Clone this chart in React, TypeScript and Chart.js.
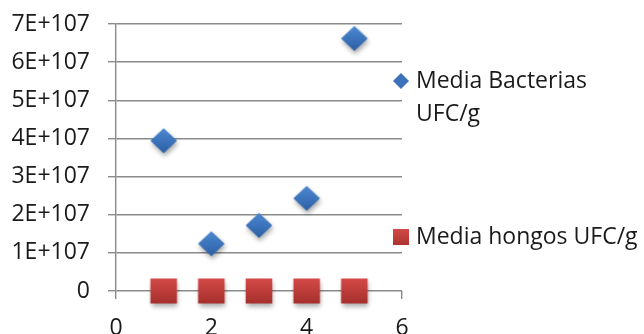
import React, { useEffect, useRef } from 'react';
import { Chart, registerables } from 'chart.js';

Chart.register(...registerables);

// Sample numbers (x) and mean counts per series
const sampleX = [1, 2, 3, 4, 5];
const bacteriasValues = [3.94e7, 1.24e7, 1.72e7, 2.43e7, 6.62e7];
const hongosValues = [0, 0, 0, 0, 0];
const seriesNames = ['Media Bacterias UFC/g', 'Media hongos UFC/g'];
const yTickLabels = ['0', '1E+107', '2E+107', '3E+107', '4E+107', '5E+107', '6E+107', '7E+107'];
const xTickLabels = ['0', '2', '4', '6'];

const FONT_FAMILY = "'Open Sans', sans-serif";
const FONT_SIZE = 23;
const TEXT_COLOR = '#1a1a1a';
const GRID_COLOR = '#8a8a8a';

type MarkerKind = 'diamond' | 'square';

function makeMarker(kind: MarkerKind): HTMLCanvasElement {
  const size = 48;
  const c = document.createElement('canvas');
  c.width = size;
  c.height = size;
  const ctx = c.getContext('2d')!;
  const cx = size / 2;
  const cy = size / 2;
  const hw = 13.3;
  const hh = 12.5;
  const g = ctx.createLinearGradient(0, cy - hh, 0, cy + hh);
  if (kind === 'square') {
    g.addColorStop(0, '#d44a47');
    g.addColorStop(1, '#a52f2d');
  } else {
    g.addColorStop(0, '#4d89d2');
    g.addColorStop(1, '#2c5fa4');
  }
  ctx.shadowColor = 'rgba(0,0,0,0.35)';
  ctx.shadowBlur = 5;
  ctx.shadowOffsetX = 1;
  ctx.shadowOffsetY = 3;
  ctx.fillStyle = g;
  ctx.beginPath();
  if (kind === 'square') {
    ctx.rect(cx - hw, cy - hh, hw * 2, hh * 2);
  } else {
    ctx.moveTo(cx, cy - hh);
    ctx.lineTo(cx + hw, cy);
    ctx.lineTo(cx, cy + hh);
    ctx.lineTo(cx - hw, cy);
    ctx.closePath();
  }
  ctx.fill();
  return c;
}

function wrapText(ctx: CanvasRenderingContext2D, text: string, maxWidth: number): string[] {
  const words = text.split(' ');
  const lines: string[] = [];
  let line = '';
  for (const w of words) {
    const test = line ? line + ' ' + w : w;
    if (line && ctx.measureText(test).width > maxWidth) {
      lines.push(line);
      line = w;
    } else {
      line = test;
    }
  }
  if (line) lines.push(line);
  return lines;
}

// Legend drawn to the right of the plot, each entry at its own height
const sideLegend = {
  id: 'sideLegend',
  afterDraw(chart: Chart) {
    const ctx = chart.ctx;
    const markerX = 401;
    const textX = 416;
    const lineGap = 33;
    const entries: { kind: MarkerKind; y: number; name: string }[] = [
      { kind: 'diamond', y: 81, name: seriesNames[0] },
      { kind: 'square', y: 237, name: seriesNames[1] },
    ];
    ctx.save();
    ctx.font = `${FONT_SIZE}px ${FONT_FAMILY}`;
    ctx.fillStyle = TEXT_COLOR;
    ctx.textBaseline = 'middle';
    ctx.textAlign = 'left';
    for (const e of entries) {
      ctx.save();
      if (e.kind === 'diamond') {
        ctx.fillStyle = '#3d72bb';
        ctx.beginPath();
        ctx.moveTo(markerX, e.y - 8);
        ctx.lineTo(markerX + 8, e.y);
        ctx.lineTo(markerX, e.y + 8);
        ctx.lineTo(markerX - 8, e.y);
        ctx.closePath();
        ctx.fill();
      } else {
        const g = ctx.createLinearGradient(0, e.y - 8, 0, e.y + 8);
        g.addColorStop(0, '#d24845');
        g.addColorStop(1, '#ad3431');
        ctx.fillStyle = g;
        ctx.fillRect(markerX - 8, e.y - 8, 16, 16);
      }
      ctx.restore();
      const lines = wrapText(ctx, e.name, chart.width - textX - 2);
      lines.forEach((ln, i) => ctx.fillText(ln, textX, e.y + i * lineGap));
    }
    ctx.restore();
  },
};

export default function App() {
  const canvasRef = useRef<HTMLCanvasElement | null>(null);

  useEffect(() => {
    let chart: Chart | null = null;
    let cancelled = false;

    const build = () => {
      if (cancelled || !canvasRef.current) return;
      const diamond = makeMarker('diamond');
      const square = makeMarker('square');
      chart = new Chart(canvasRef.current, {
        type: 'scatter',
        data: {
          datasets: [
            {
              label: seriesNames[0],
              data: sampleX.map((x, i) => ({ x, y: bacteriasValues[i] })),
              pointStyle: diamond as any,
              pointRadius: 14,
              showLine: false,
              clip: false as any,
            },
            {
              label: seriesNames[1],
              data: sampleX.map((x, i) => ({ x, y: hongosValues[i] })),
              pointStyle: square as any,
              pointRadius: 14,
              showLine: false,
              clip: false as any,
            },
          ],
        },
        options: {
          responsive: false,
          animation: false,
          events: [],
          layout: { padding: { left: 0, top: 24, right: 242, bottom: 0 } },
          plugins: {
            legend: { display: false },
            tooltip: { enabled: false },
          },
          scales: {
            x: {
              type: 'linear',
              min: 0,
              max: 6,
              ticks: {
                stepSize: 2,
                padding: 16,
                color: TEXT_COLOR,
                font: { family: FONT_FAMILY, size: FONT_SIZE },
                callback: (_v: any, i: number) => xTickLabels[i],
                maxRotation: 0,
              },
              grid: {
                drawOnChartArea: false,
                drawTicks: true,
                tickLength: 8,
                color: GRID_COLOR,
                lineWidth: 1.4,
              },
              border: { display: false },
              afterFit: (scale: any) => {
                scale.height = 43;
                scale.paddingLeft = 0;
                scale.paddingRight = 0;
              },
            },
            y: {
              type: 'linear',
              min: 0,
              max: 7e7,
              ticks: {
                stepSize: 1e7,
                padding: 18,
                color: TEXT_COLOR,
                font: { family: FONT_FAMILY, size: FONT_SIZE },
                callback: (_v: any, i: number) => yTickLabels[i],
              },
              grid: {
                drawTicks: true,
                tickLength: 8,
                color: GRID_COLOR,
                lineWidth: 1.4,
              },
              border: { display: true, color: GRID_COLOR, width: 1.4 },
              afterFit: (scale: any) => {
                scale.width = 116;
                scale.paddingTop = 0;
                scale.paddingBottom = 0;
              },
            },
          },
        },
        plugins: [sideLegend],
      });
    };

    const fonts = (document as any).fonts;
    if (fonts && fonts.load) {
      fonts.load(`${FONT_SIZE}px "Open Sans"`).then(build, build);
    } else {
      build();
    }

    return () => {
      cancelled = true;
      if (chart) chart.destroy();
    };
  }, []);

  return (
    <div style={{ position: 'fixed', left: 0, top: 0, width: 644, height: 334, background: '#ffffff' }}>
      <canvas ref={canvasRef} width={644} height={334} />
    </div>
  );
}
